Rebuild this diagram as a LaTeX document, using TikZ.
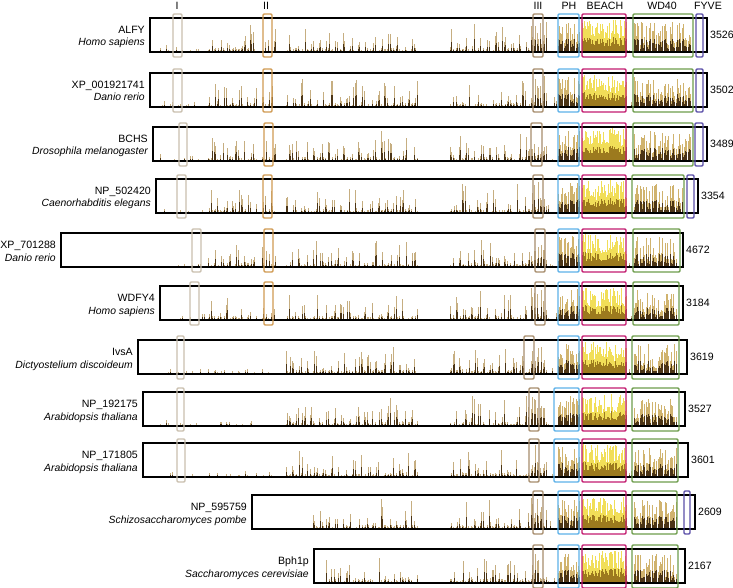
\documentclass[tikz,border=0pt]{standalone}
\usepackage{fontspec}
\setmainfont{Liberation Sans}
\usetikzlibrary{positioning}

\definecolor{domI}{HTML}{C9BFAE}
\definecolor{domII}{HTML}{D09A52}
\definecolor{domIII}{HTML}{A68C6C}
\definecolor{domPH}{HTML}{5CB0E8}
\definecolor{domBEACH}{HTML}{C21A6E}
\definecolor{domWD}{HTML}{6D9C4C}
\definecolor{domFYVE}{HTML}{5A4FA8}
\definecolor{brlt}{HTML}{B89A62}
\definecolor{brdk}{HTML}{4B3415}
\definecolor{golt}{HTML}{C4A04A}
\definecolor{yelt}{HTML}{EED62E}
\definecolor{yedk}{HTML}{9C7A1E}

\newcommand\conservbars[4]{%
  \foreach \xa/\xb/\hm/\dx/\fa/\pw/\ct/\cb in {
      160/205/7/2.0/0/1.5/brlt/brdk, 208/256/28/1.5/0/1.1/brlt/brdk,
      262/276/26/1.5/0/1.1/brlt/brdk, 286/370/28/1.5/0/1.1/brlt/brdk,
      372/417/31/1.5/0/1.1/brlt/brdk, 450/530/31/1.5/0/1.1/brlt/brdk,
      531/546/32/1.5/0.1/1.5/brlt/brdk, 548/556/10/2/0/2/brlt/brdk,
      558/580/31/1.2/0.25/1/golt/brdk, 582/626/33/1.0/0.4/1/yelt/yedk,
      627/632/12/2/0/2/brlt/brdk, 634/692/30/1.2/0.2/1.2/golt/brdk}{
    \pgfmathsetmacro\xn{\xa+\dx}
    \foreach \x in {\xa,\xn,...,\xb}{
      \pgfmathsetmacro\eff{or(\x<#2,\x>#4) ? 0 : (\x<#3 ? 7 : \hm)}
      \pgfmathsetmacro\env{\fa>0 ? 1 : (sin(mod(\x,7.66)*47+#1*3)>0.1 ? 0.75+0.25*sin(\x*13+#1) : 0.15)}
      \pgfmathsetmacro\hh{\eff*\env*(\fa+(1-\fa)*rnd^\pw)}
      \ifdim\hh pt>0.6pt
        \draw[bartop=\ct] (\x,#1) -- ++(0,-\hh);
        \draw[barbase=\cb] (\x,#1) -- ++(0,-0.45*\hh);
      \fi
    }
  }
}

\begin{document}
\begin{tikzpicture}[x=1pt, y=-1pt,
    protbox/.style={draw=black, line width=1.8pt},
    dombox/.style={draw=#1, line width=1.4pt, rounded corners=1.2pt},
    protname/.style={font=\fontsize{10.6}{12}\selectfont, inner sep=0pt, anchor=base east},
    species/.style={protname, font=\fontsize{10.4}{12}\selectfont\itshape},
    lenlabel/.style={font=\fontsize{10.6}{12}\selectfont, inner sep=0pt, anchor=west},
    domlabel/.style={font=\fontsize{10.6}{12}\selectfont, inner sep=0pt, anchor=base},
    bartop/.style={draw=#1, line width=0.75pt, opacity=0.8},
    barbase/.style={draw=#1, line width=0.75pt}]

    \useasboundingbox (0,0) rectangle (733,588);
    \pgfmathsetseed{4217}

    \node[domlabel] (hI) at (177,9.5) {I};
    \node[domlabel] (hII) at (266,9.5) {II};
    \node[domlabel] (hIII) at (538,9.5) {III};
    \node[domlabel] (hPH) at (569,9.5) {PH};
    \node[domlabel] (hBEACH) at (605,9.5) {BEACH};
    \node[domlabel] (hWD) at (662,9.5) {WD40};
    \node[domlabel] (hFYVE) at (708,9.5) {FYVE};

    \foreach \t/\l/\r/\n/\s/\num/\st/\sh/\en [count=\i] in {
        18/150/707/ALFY/Homo sapiens/3526/160/207/691,
        73/150/707/XP\_001921741/Danio rerio/3502/160/207/691,
        127/153/707/BCHS/Drosophila melanogaster/3489/160/207/691,
        179/156/698/NP\_502420/Caenorhabditis elegans/3354/161/207/682,
        233/61/683/XP\_701288/Danio rerio/4672/165/207/677,
        286/160/683/WDFY4/Homo sapiens/3184/165/207/677,
        340/138/687/IvsA/Dictyostelium discoideum/3619/160/280/677,
        392/143/685/NP\_192175/Arabidopsis thaliana/3527/160/280/677,
        443/143/688/NP\_171805/Arabidopsis thaliana/3601/160/280/677,
        495/252/695/NP\_595759/Schizosaccharomyces pombe/2609/312/312/676,
        549/314/685/Bph1p/Saccharomyces cerevisiae/2167/326/326/676}{
        \pgfmathsetmacro\yb{\t+34}
        \conservbars{\yb}{\st}{\sh}{\en}
        \draw[protbox] (\l,\t) rectangle (\r,\t+34);
        \node[protname] (name\i) at (\l-5,\t+15.3) {\n};
        \node[species] (spec\i) at (\l-5,\t+28) {\s};
        \node[lenlabel] (len\i) at (\r+3,\t+17) {\num};
    }

    \foreach \t/\xa/\xb in {18/173/182, 73/173/182, 127/179/187, 179/177/186,
        233/192/201, 286/190/199, 340/177/184, 392/177/184, 443/177/185}
        \draw[dombox=domI] (\xa,\t-4) rectangle (\xb,\t+39);
    \foreach \t/\xa/\xb in {18/263/272, 73/263/272, 127/264/273, 179/263/272,
        233/264/273, 286/264/273}
        \draw[dombox=domII] (\xa,\t-4) rectangle (\xb,\t+39);
    \foreach \t/\xa/\xb in {18/533/543, 73/533/543, 127/531/542, 179/533/543,
        233/535/545, 286/535/545, 340/524/534, 392/529/539, 443/529/539,
        495/533/543, 549/533/543}
        \draw[dombox=domIII] (\xa,\t-4) rectangle (\xb,\t+39);
    \foreach \t/\xa/\xb in {18/558/579, 73/558/579, 127/558/579, 179/558/579,
        233/558/579, 286/558/579, 340/558/579, 392/554/579, 443/554/579,
        495/558/579, 549/558/579}
        \draw[dombox=domPH] (\xa,\t-4) rectangle (\xb,\t+39);
    \foreach \t in {18,73,127,179,233,286,340,392,443,495,549}
        \draw[dombox=domBEACH] (582,\t-4) rectangle (626,\t+39);
    \foreach \t/\xa/\xb in {18/633/693, 73/633/693, 127/633/693, 179/632/684,
        233/633/680, 286/633/679, 340/632/679, 392/632/679, 443/632/678,
        495/632/677, 549/632/678}
        \draw[dombox=domWD] (\xa,\t-4) rectangle (\xb,\t+39);
    \foreach \t/\xa/\xb in {18/696/703, 73/696/703, 127/695/703, 179/687/694,
        495/684/690}
        \draw[dombox=domFYVE] (\xa,\t-4) rectangle (\xb,\t+39);
\end{tikzpicture}
\end{document}
